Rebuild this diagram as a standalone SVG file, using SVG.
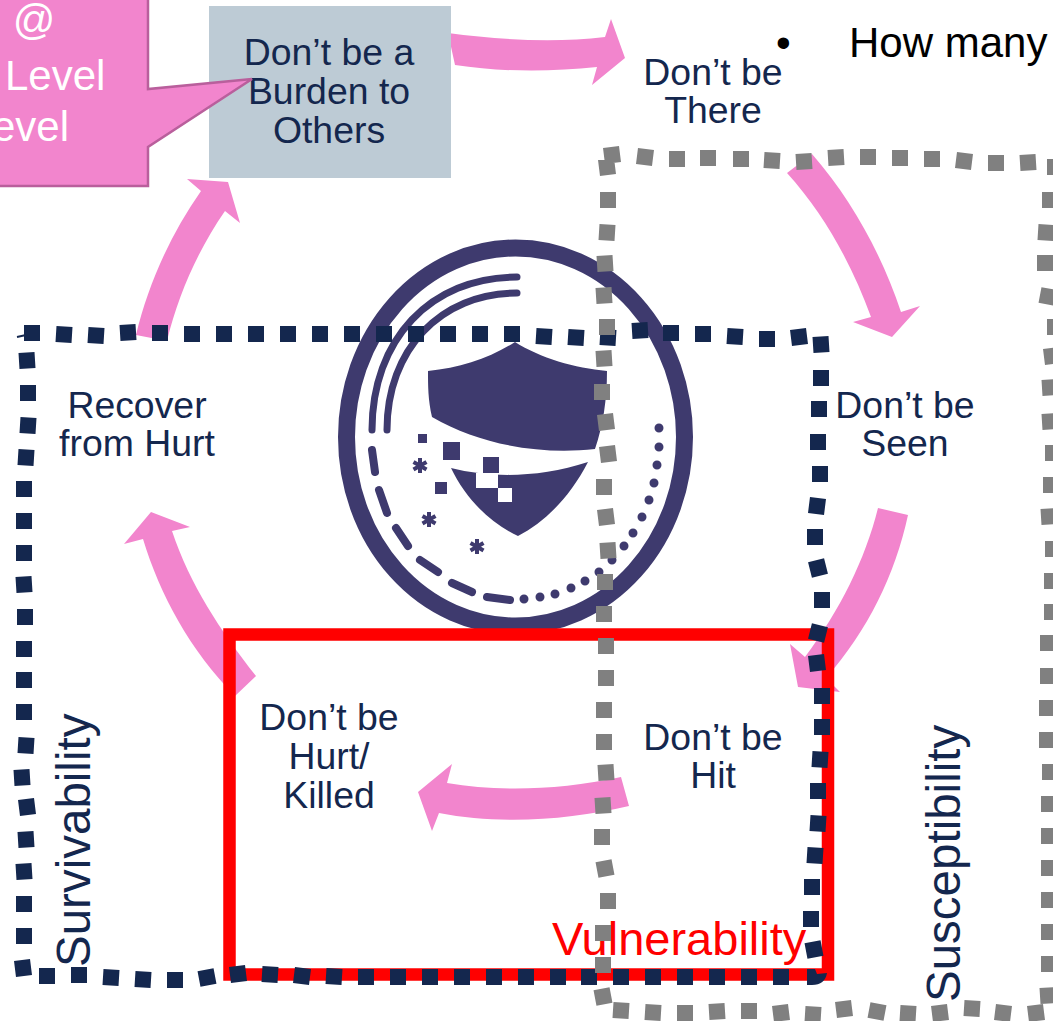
<svg xmlns="http://www.w3.org/2000/svg" width="1053" height="1021" viewBox="0 0 1053 1021">
<style>
text{font-family:"Liberation Sans",Arial,sans-serif}
.n{font-size:37.400px;fill:#14274e;text-anchor:middle}
.side{font-size:47.500px;fill:#14274e}
.arrow{fill:#f285cd}
.logo{fill:#3e3a6e}
.ln{fill:none;stroke:#3e3a6e;stroke-linecap:round}
.sq{fill:none;stroke-width:16}
</style>
<rect width="1053" height="1021" fill="#fff"/>
<g id="logo">
<ellipse cx="515.500" cy="437" rx="169" ry="189" fill="none" stroke="#3e3a6e" stroke-width="17"/>
<path class="ln" stroke-width="7" d="M372 430C372 340 430 277 517 277M387 430C387 350 440 293 517 293"/>
<path class="ln" stroke-width="8" d="M372 450L375 472M379 490L387 513M396 528L408 546M420 560L438 572M452 583L472 592M487 597L510 600"/>
<path class="ln" stroke-width="9" d="M524 599h0M540 597h0M555 594h0M571 588h0M585 581h0M599 572h0M612 560h0M624 546h0M633 533h0M642 517h0M649 500h0M654 483h0M657 465h0M659 447h0M659 428h0"/>
<path class="logo" d="M428 371C460 368 490 358 515 342C540 358 575 368 607 371C607 400 603 425 595 449C540 455 480 445 432 417C428 400 428 385 428 371Z"/>
<path class="logo" d="M451 468C490 478 540 478 588 462C570 497 545 522 518 536C488 522 465 497 451 468Z"/>
<rect x="476" y="473" width="22" height="15" fill="#fff"/><rect x="498" y="488" width="14" height="14" fill="#fff"/>
<rect class="logo" x="483" y="457" width="16" height="16"/><rect class="logo" x="443" y="442" width="17" height="18"/><rect class="logo" x="418" y="434" width="9" height="9"/><rect class="logo" x="435" y="482" width="12" height="12"/>
<path class="ln" stroke-width="4" style="stroke-linecap:butt" d="M420 458v15M413.500 462l13 7.500M426.500 462l-13 7.500M429 512v15M422.500 516l13 7.500M435.500 516l-13 7.500M477 539v15M470.500 543l13 7.500M483.500 543l-13 7.500"/>
</g>
<g id="connectors">
<path class="arrow" d="M136 335C148 285 170 235 201 191L187 179L228 182L240 223L225 211C198 250 178 295 167 341Z"/>
<path class="arrow" d="M448 33C500 40 555 43 605 37L611 19L625 58L592 85L597 67C550 72 500 72 455 65Z"/>
<path class="arrow" d="M812 154C852 200 882 255 901 312L920 306L892 337L853 322L871 317C852 265 825 215 787 173Z"/>
<path class="arrow" d="M908 515C895 575 868 630 826 678L840 692L798 687L790 644L805 657C840 610 865 560 878 508Z"/>
<path class="arrow" d="M621 777C560 790 500 792 447 783L452 764L418 792L432 831L439 813C500 825 570 820 629 806Z"/>
<path class="arrow" d="M256 676C220 630 190 585 172 531L190 527L151 512L124 544L143 539C160 595 190 650 235 696Z"/>
</g>
<g id="burden">
<rect x="209" y="6" width="242" height="172" fill="#bdcbd5"/>
<text class="n" x="329" y="65">Don’t be a</text><text class="n" x="329" y="104">Burden to</text><text class="n" x="329" y="143">Others</text>
</g>
<g id="callout">
<path d="M-5 -5H148V89L252 79L148 147V186H-5Z" fill="#f285cd" stroke="#b95f9c" stroke-width="2.500"/>
<text x="34" y="34" font-size="42" fill="#fff" text-anchor="middle">@</text>
<text x="5" y="90" font-size="42" fill="#fff">Level</text>
<text x="69" y="141" font-size="42" fill="#fff" text-anchor="end">evel</text>
</g>
<g id="there"><text class="n" x="713" y="85">Don’t be</text><text class="n" x="713" y="123">There</text></g>
<g id="seen"><text class="n" x="905" y="418">Don’t be</text><text class="n" x="905" y="456">Seen</text></g>
<g id="hit"><text class="n" x="713" y="750">Don’t be</text><text class="n" x="713" y="788">Hit</text></g>
<g id="hurt"><text class="n" x="329" y="730">Don’t be</text><text class="n" x="329" y="769">Hurt/</text><text class="n" x="329" y="808">Killed</text></g>
<g id="recover"><text class="n" x="137" y="418">Recover</text><text class="n" x="137" y="456">from Hurt</text></g>
<g id="bullet"><text x="776" y="57" font-size="42" fill="#000">•</text><text x="849" y="57" font-size="42" fill="#000">How many</text></g>
<g id="vulnerability">
<rect x="229.500" y="634.500" width="598.500" height="340" fill="none" stroke="#f00" stroke-width="12.500"/>
<text x="552" y="955" font-size="47" fill="#f00">Vulnerability</text>
</g>
<g id="survivability">
<text class="side" transform="translate(90 967) rotate(-90)">Survivability</text>
<path class="sq" stroke="#14274e" d="M24 333h16M56 334l16 1M88 335l16 1M120 333l16-1M152 333h16M184 334h16M216 334h16M248 334h16M280 334h16M312 334h16M344 334h16M376 334h16M408 334h16M440 334h16M472 334h16M504 334h16M536 336l16 1M568 337l16 1M600 337l16 1M632 331l16-1M663 333h16M695 334h16M727 336l16 1M759 339h16M791 338l16-2M813 345l16-1M813 378l16 0M811 409h16M810 442h16M812 474h16M809 505l16 2M807 537h16M810 570l16-4M814 600h16M810 631l16 4M809 664l16-2M814 696h16M814 727h16M812 759l16 1M810 791h16M810 823l16 1M807 855l16 1M804 887h16M803 919h16M806 951l16-3M773 977h16M741 977h16M709 977h16M677 977h16M645 977h16M613 977h16M581 977h16M550 977h16M518 977h16M486 977h16M454 977h16M422 977h16M390 977h16M358 977h16M326 976l16 1M294 975l16 2M262 974l16 1M230 975l16-2M199 979l16-3M167 980h16M135 979l16 1M103 977l16 1M71 975h16M39 976l16 0M15 969l16-2M16 936h16M16 904h16M16 872l16-1M18 840l16-1M19 808l16-2M14 778l16-1M18 745l16 1M16 712h16M16 680h16M16 649h16M17 617h16M16 585l16-1M16 553h16M16 521h16M16 489h16M18 457l16 1M20 425l16 1M20 393h16M19 361l16-1"/>
<path fill="#14274e" d="M807 969H815L817 974L827 973Q825 985 812 985H807Z"/>
<path stroke="#14274e" stroke-width="2" d="M17 337L26 335"/>
</g>
<g id="susceptibility">
<text class="side" transform="translate(960 1002) rotate(-90)">Susceptibility</text>
<path class="sq" stroke="#808080" d="M604 156l16-2M637 156l16 2M669 159h16M700 158h16M733 159h16M764 160l16 1M796 162l16-1M828 158l16-1M860 157h16M892 158h16M924 159h16M956 160l16 2M988 163h16M1020 163l16-1M1047 167h16M599 168l16-2M600 200h16M599 232l16 1M597 264l16-1M596 296l16-1M599 327h16M596 359l16-1M594 392h16M598 423l16-2M600 455l16-2M596 487h16M598 518l16-2M600 551l16-1M597 582h16M596 614h16M598 646h16M598 678h16M596 710h16M596 742h16M598 773l16-1M595 806l16-1M594 837h16M597 870l16-3M600 901h16M595 933h16M595 965h16M595 998l16-3M613 1010l16 1M645 1012l16 1M677 1013h16M709 1012l16-1M741 1011h16M773 1014l16-2M805 1014l16 1M836 1010l16-2M869 1010l16 3M900 1013l16 1M932 1014l16-2M964 1008l16 1M995 1012l16 2M1028 1014l16-2M1040 996l16-1M1041 964h16M1041 932h16M1041 900h16M1041 868h16M1041 836h16M1041 804h16M1042 772h16M1039 740h16M1039 708h16M1040 676h16M1040 643h16M1044 612h16M1044 581h16M1045 549h16M1041 517l16-1M1043 485h16M1045 453h16M1042 422l16-1M1042 388l16-1M1044 357l16-2M1047 327h16M1040 295l16 3M1037 263h16M1038 232l16 1M1042 200h16"/>
</g>
</svg>
